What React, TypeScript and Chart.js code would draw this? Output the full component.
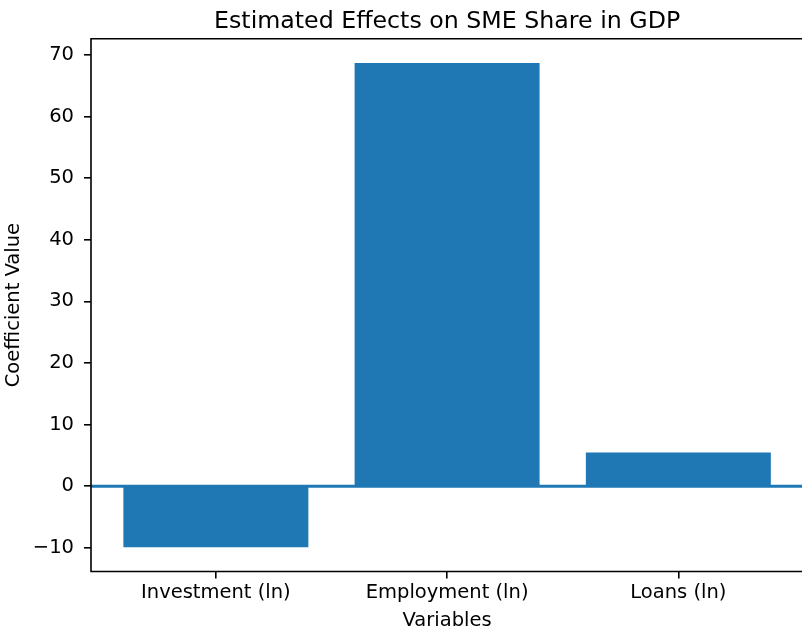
import React, { useEffect, useRef } from 'react';
import { Chart, registerables } from 'chart.js';

Chart.register(...registerables);

// ---- data ----
const categories = ['Investment (ln)', 'Employment (ln)', 'Loans (ln)'];
const coefficients = [-9.9, 68.7, 5.5];
const xTickValues = [0, 1, 2];
const yTickValues = [-10, 0, 10, 20, 30, 40, 50, 60, 70];
const titleText = 'Estimated Effects on SME Share in GDP';
const xLabel = 'Variables';
const yLabel = 'Coefficient Value';

const BLUE = '#1f77b4';
const FONT = '"DejaVu Sans", "Liberation Sans", sans-serif';
const TICK_SIZE = 19.5;
const TITLE_SIZE = 23.7;

export default function App() {
  const ref = useRef<HTMLCanvasElement>(null);

  useEffect(() => {
    const canvas = ref.current;
    if (!canvas) return;

    const minV = Math.min(...coefficients);
    const maxV = Math.max(...coefficients);
    const yMargin = (maxV - minV) * 0.05;
    const xLo = xTickValues[0] - 0.4;
    const xHi = xTickValues[xTickValues.length - 1] + 0.4;
    const xMargin = (xHi - xLo) * 0.05;

    const decorPlugin = {
      id: 'decor',
      afterDatasetsDraw(chart: any) {
        const { ctx, chartArea } = chart;
        const { left, right, top, bottom } = chartArea;
        const y0 = chart.scales.y.getPixelForValue(0);
        ctx.save();
        // zero line (axhline)
        ctx.strokeStyle = BLUE;
        ctx.lineWidth = 3;
        ctx.beginPath();
        ctx.moveTo(left, y0);
        ctx.lineTo(right, y0);
        ctx.stroke();
        // spines (right spine falls outside the visible frame)
        ctx.strokeStyle = '#000';
        ctx.lineWidth = 1.6;
        ctx.beginPath();
        ctx.moveTo(right + 1, top);
        ctx.lineTo(left, top);
        ctx.lineTo(left, bottom);
        ctx.lineTo(right + 1, bottom);
        ctx.stroke();
        // title
        ctx.fillStyle = '#000';
        ctx.font = `${TITLE_SIZE}px ${FONT}`;
        ctx.textAlign = 'center';
        ctx.textBaseline = 'alphabetic';
        ctx.fillText(titleText, (left + right) / 2, top - 11.2);
        ctx.restore();
      },
    };

    const chart = new Chart(canvas, {
      type: 'bar',
      data: {
        datasets: [
          {
            data: xTickValues.map((x, i) => ({ x, y: coefficients[i] })),
            backgroundColor: BLUE,
            borderWidth: 0,
            barPercentage: 0.8,
            categoryPercentage: 1.0,
          },
        ],
      },
      options: {
        responsive: false,
        animation: false,
        layout: { padding: { left: 0, right: 2.8, top: 38.7, bottom: 0 } },
        plugins: {
          legend: { display: false },
          tooltip: { enabled: false },
          title: { display: false },
        },
        scales: {
          x: {
            type: 'linear',
            offset: false,
            min: xLo - xMargin,
            max: xHi + xMargin,
            afterBuildTicks: (scale: any) => {
              scale.ticks = xTickValues.map((v) => ({ value: v }));
            },
            afterFit: (scale: any) => {
              scale.height = 58.5;
            },
            ticks: {
              autoSkip: false,
              maxRotation: 0,
              minRotation: 0,
              padding: 2.8,
              color: '#000',
              font: { family: FONT, size: TICK_SIZE },
              callback: (value: any) => {
                const idx = xTickValues.indexOf(Number(value));
                return idx >= 0 ? categories[idx] : '';
              },
            },
            grid: {
              display: true,
              offset: false,
              drawOnChartArea: false,
              drawTicks: true,
              tickLength: 7,
              color: '#000',
              lineWidth: 1.6,
            },
            border: { display: false },
            title: {
              display: true,
              text: xLabel,
              color: '#000',
              font: { family: FONT, size: TICK_SIZE },
              padding: { top: 0, bottom: -2.7 },
            },
          },
          y: {
            type: 'linear',
            min: minV - yMargin,
            max: maxV + yMargin,
            afterBuildTicks: (scale: any) => {
              scale.ticks = yTickValues.map((v) => ({ value: v }));
            },
            afterFit: (scale: any) => {
              scale.width = 91;
            },
            ticks: {
              padding: 10,
              color: '#000',
              font: { family: FONT, size: TICK_SIZE },
              callback: (value: any) => {
                const n = Number(value);
                return n < 0 ? '\u2212' + String(Math.abs(n)) : String(n);
              },
            },
            grid: {
              display: true,
              drawOnChartArea: false,
              drawTicks: true,
              tickLength: 7,
              color: '#000',
              lineWidth: 1.6,
            },
            border: { display: false },
            title: {
              display: true,
              text: yLabel,
              color: '#000',
              font: { family: FONT, size: TICK_SIZE },
              padding: { top: 2, bottom: 0 },
            },
          },
        },
      },
      plugins: [decorPlugin],
    } as any);

    return () => {
      chart.destroy();
    };
  }, []);

  return (
    <div
      style={{
        position: 'fixed',
        left: 0,
        top: 0,
        width: 802,
        height: 630,
        overflow: 'hidden',
        background: '#fff',
      }}
    >
      <canvas
        ref={ref}
        width={806}
        height={630}
        style={{ display: 'block', width: 806, height: 630 }}
      />
    </div>
  );
}
